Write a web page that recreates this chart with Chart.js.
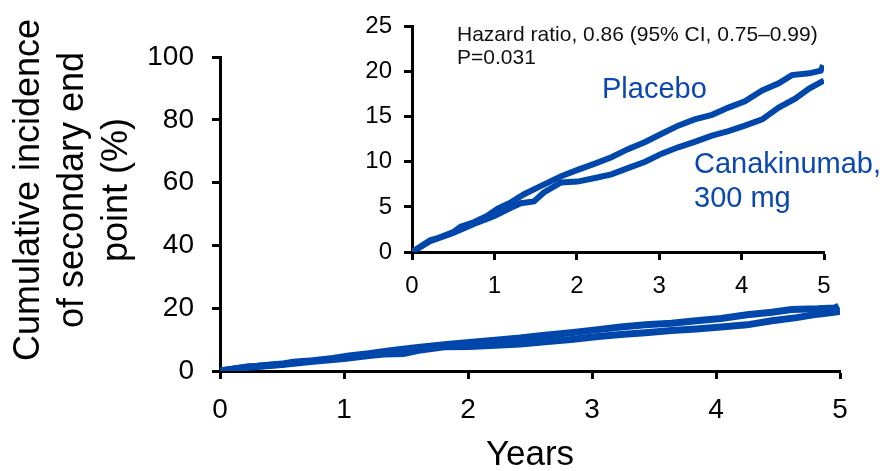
<!DOCTYPE html>
<html>
<head>
<meta charset="utf-8">
<script src="https://cdn.jsdelivr.net/npm/chart.js@4.4.1/dist/chart.umd.min.js"></script>
<style>
    html, body { margin: 0; padding: 0; background: #fff; }
    #wrap { position: relative; width: 884px; height: 471px; font-family: "Liberation Sans", Arial, sans-serif; }
    #mainChart { position: absolute; left: 0; top: 0; }
    #insetChart { position: absolute; left: 340px; top: 0; }
    .note { position: absolute; white-space: nowrap; line-height: 1; }
    .hr { font-size: 21px; color: #111; }
    .grp { font-size: 29px; color: #0a48b0; }
</style>
</head>
<body>
<div id="wrap">
    <canvas id="mainChart" width="884" height="471"></canvas>
    <canvas id="insetChart" width="544" height="310"></canvas>
    <div class="note hr" style="left:457px; top:23px;">Hazard ratio, 0.86 (95% CI, 0.75–0.99)</div>
    <div class="note hr" style="left:457px; top:46px;">P=0.031</div>
    <div class="note grp" style="left:602px; top:74px;">Placebo</div>
    <div class="note grp" style="left:694px; top:149px;">Canakinumab,</div>
    <div class="note grp" style="left:694px; top:183px;">300 mg</div>
</div>
<script>
// years / cumulative incidence (%)
const placeboYears = [0, 0.22, 0.3, 0.5, 0.59, 0.75, 0.91, 1.04, 1.2, 1.36, 1.56, 1.81, 2.01, 2.22, 2.42, 2.62, 2.83, 3.03, 3.23, 3.43, 3.64, 3.84, 4.04, 4.25, 4.45, 4.61, 4.82, 4.96, 4.99];
const placeboPct = [0, 1.3, 1.5, 2.2, 2.8, 3.3, 4.0, 4.8, 5.5, 6.4, 7.3, 8.4, 9.1, 9.8, 10.5, 11.4, 12.2, 13.1, 14.0, 14.7, 15.2, 16.0, 16.7, 17.9, 18.7, 19.6, 19.8, 20.1, 20.7];

const canaYears = [0, 0.22, 0.5, 0.75, 1.0, 1.2, 1.32, 1.48, 1.6, 1.81, 2.01, 2.22, 2.42, 2.62, 2.83, 3.03, 3.23, 3.43, 3.64, 3.84, 4.04, 4.25, 4.45, 4.65, 4.82, 4.98, 5.0];
const canaPct = [0, 1.2, 2.1, 3.1, 4.0, 4.9, 5.4, 5.6, 6.6, 7.7, 7.8, 8.2, 8.6, 9.3, 10.0, 10.9, 11.6, 12.2, 12.9, 13.4, 14.0, 14.7, 16.0, 17.0, 18.1, 18.9, 19.0];

const xTicks = [0, 1, 2, 3, 4, 5];
const mainYTicks = [0, 20, 40, 60, 80, 100];
const insetYTicks = [0, 5, 10, 15, 20, 25];

const yTitleLines = ["Cumulative incidence", "of secondary end", "point (%)"];
const xTitle = "Years";

const BLUE = "#0047ab";
const FONT = "'Liberation Sans', Arial, sans-serif";

function toPoints(xs, ys) {
    return xs.map((x, i) => ({ x: x, y: ys[i] }));
}

function makeDatasets(width) {
    return [
        { label: "Placebo", data: toPoints(placeboYears, placeboPct), borderColor: BLUE, borderWidth: width, pointRadius: 0, tension: 0, fill: false },
        { label: "Canakinumab, 300 mg", data: toPoints(canaYears, canaPct), borderColor: BLUE, borderWidth: width, pointRadius: 0, tension: 0, fill: false }
    ];
}

function axisStyle(tickList, fontSize, pad) {
    return {
        ticks: {
            autoSkip: false,
            color: "#000",
            font: { family: FONT, size: fontSize },
            padding: pad
        },
        afterBuildTicks: (scale) => { scale.ticks = tickList.map(v => ({ value: v })); },
        grid: { drawOnChartArea: false, drawTicks: true, tickLength: 8, tickWidth: 3, tickColor: "#000" },
        border: { display: true, color: "#000", width: 3 }
    };
}

// rotated three-line y title, placed like the original
const yTitlePlugin = {
    id: "yTitle",
    afterDraw(chart) {
        const ctx = chart.ctx;
        const xs = [29, 73, 117];
        ctx.save();
        ctx.fillStyle = "#000";
        ctx.font = "36px " + FONT;
        ctx.textAlign = "center";
        ctx.textBaseline = "middle";
        yTitleLines.forEach((line, i) => {
            ctx.save();
            ctx.translate(xs[i], 190);
            ctx.rotate(-Math.PI / 2);
            ctx.fillText(line, 0, 0);
            ctx.restore();
        });
        ctx.restore();
    }
};

const mainX = axisStyle(xTicks, 28, 14);
mainX.type = "linear";
mainX.min = 0;
mainX.max = 5;
mainX.title = { display: true, text: xTitle, color: "#000", font: { family: FONT, size: 35, lineHeight: 0.9 }, padding: { top: 0, bottom: 0 } };
mainX.afterFit = (scale) => { scale.height = 100; };

const mainY = axisStyle(mainYTicks, 28, 18);
mainY.min = 0;
mainY.max = 100;
mainY.afterFit = (scale) => { scale.width = 220; };

new Chart(document.getElementById("mainChart"), {
    type: "line",
    data: { datasets: makeDatasets(7) },
    options: {
        responsive: false,
        animation: false,
        layout: { padding: { top: 57, right: 44, left: 0, bottom: 0 } },
        plugins: { legend: { display: false }, tooltip: { enabled: false } },
        scales: { x: mainX, y: mainY }
    },
    plugins: [yTitlePlugin]
});

const insetX = axisStyle(xTicks, 24, 12);
insetX.type = "linear";
insetX.min = 0;
insetX.max = 5;
insetX.afterFit = (scale) => { scale.height = 58; };

const insetY = axisStyle(insetYTicks, 24, 12);
insetY.min = 0;
insetY.max = 25;
insetY.afterFit = (scale) => { scale.width = 72; };

new Chart(document.getElementById("insetChart"), {
    type: "line",
    data: { datasets: makeDatasets(6) },
    options: {
        responsive: false,
        animation: false,
        layout: { padding: { top: 22, right: 60, left: 0, bottom: 0 } },
        plugins: { legend: { display: false }, tooltip: { enabled: false } },
        scales: { x: insetX, y: insetY }
    }
});
</script>
</body>
</html>
